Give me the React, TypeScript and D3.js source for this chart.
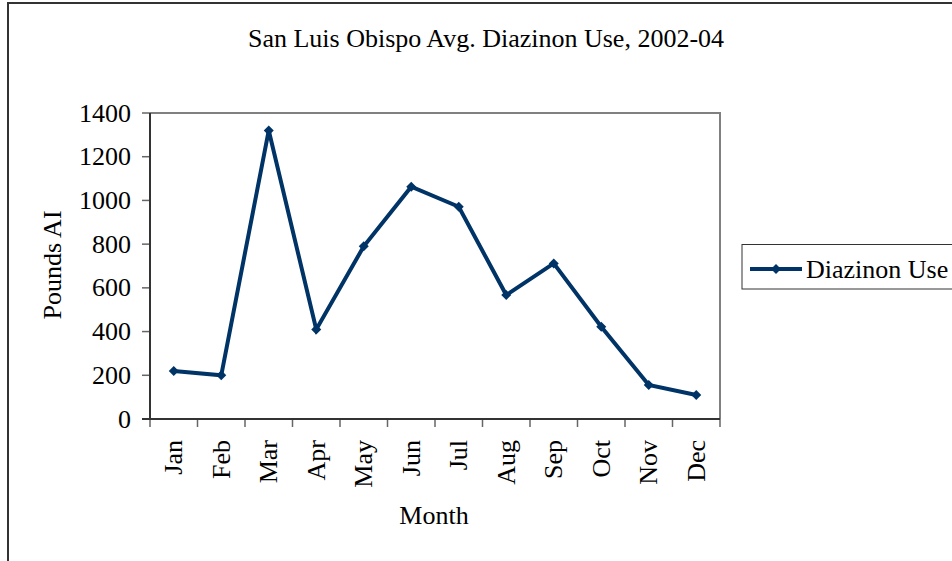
import React from "react";
import * as d3 from "d3";

const months = ["Jan", "Feb", "Mar", "Apr", "May", "Jun", "Jul", "Aug", "Sep", "Oct", "Nov", "Dec"];
const diazinonUse = [220, 200, 1320, 410, 790, 1063, 971, 567, 712, 422, 156, 110];
const yTicks = [0, 200, 400, 600, 800, 1000, 1200, 1400];
const title = "San Luis Obispo Avg. Diazinon Use, 2002-04";
const seriesName = "Diazinon Use";
const xTitle = "Month";
const yTitle = "Pounds AI";

const W = 952;
const H = 561;
const plot = { left: 150, right: 720, top: 113, bottom: 419 };
const FONT = "'Liberation Serif', 'Times New Roman', serif";
const LINE = "#003366";

export default function App() {
  const x = d3.scaleBand<string>().domain(months).range([plot.left, plot.right]).padding(0);
  const y = d3.scaleLinear().domain([0, 1400]).range([plot.bottom, plot.top]);
  const cx = (m: string) => (x(m) as number) + x.bandwidth() / 2;

  const line = d3
    .line<number>()
    .x((_, i) => cx(months[i]))
    .y((d) => y(d));

  const diamond = (px: number, py: number, r: number) =>
    `M${px},${py - r}L${px + r},${py}L${px},${py + r}L${px - r},${py}Z`;

  const boundaries = [...months.map((m) => x(m) as number), plot.right];

  return (
    <svg
      width={W}
      height={H}
      style={{ position: "absolute", left: 0, top: 0, background: "#fff" }}
      fontFamily={FONT}
    >
      <rect x={0} y={0} width={W} height={H} fill="#fff" />
      {/* outer frame */}
      <path d={`M8,${H + 5}L8,3L${W + 5},3`} fill="none" stroke="#333" strokeWidth={2} />

      <text x={486} y={47} textAnchor="middle" fontSize={26} fill="#000">
        {title}
      </text>

      {/* plot frame top/right */}
      <path
        d={`M${plot.left},${plot.top}L${plot.right},${plot.top}L${plot.right},${plot.bottom}`}
        fill="none"
        stroke="#808080"
        strokeWidth={2}
      />

      {/* y axis ticks and labels */}
      {yTicks.map((t) => (
        <g key={t}>
          <line x1={plot.left - 8} x2={plot.left} y1={y(t)} y2={y(t)} stroke="#666" strokeWidth={1.5} />
          <text
            x={plot.left - 19}
            y={y(t)}
            textAnchor="end"
            dominantBaseline="central"
            fontSize={26}
            fill="#000"
          >
            {t}
          </text>
        </g>
      ))}

      {/* x axis ticks */}
      {boundaries.map((b, i) => (
        <line key={i} x1={b} x2={b} y1={plot.bottom} y2={plot.bottom + 8} stroke="#666" strokeWidth={1.5} />
      ))}
      {months.map((m) => (
        <text
          key={m}
          transform={`translate(${cx(m)},${plot.bottom + 21}) rotate(-90)`}
          textAnchor="end"
          dominantBaseline="central"
          fontSize={26}
          fill="#000"
        >
          {m}
        </text>
      ))}

      {/* axes lines */}
      <line x1={plot.left} x2={plot.left} y1={plot.top} y2={plot.bottom} stroke="#333" strokeWidth={2} />
      <line x1={plot.left - 8} x2={plot.right} y1={plot.bottom} y2={plot.bottom} stroke="#333" strokeWidth={2} />

      {/* axis titles */}
      <text x={434} y={524} textAnchor="middle" fontSize={26} fill="#000">
        {xTitle}
      </text>
      <text
        transform={`translate(61,265) rotate(-90)`}
        textAnchor="middle"
        fontSize={26}
        fill="#000"
      >
        {yTitle}
      </text>

      {/* series */}
      <path d={line(diazinonUse) || ""} fill="none" stroke={LINE} strokeWidth={4} strokeLinejoin="miter" />
      {diazinonUse.map((v, i) => (
        <path key={i} d={diamond(cx(months[i]), y(v), 5)} fill={LINE} />
      ))}

      {/* legend */}
      <rect x={742} y={244.5} width={230} height={44.5} fill="#fff" stroke="#333" strokeWidth={1} />
      <line x1={750} x2={802} y1={269} y2={269} stroke={LINE} strokeWidth={4} />
      <path d={diamond(776, 269, 5)} fill={LINE} />
      <text x={806} y={269} dominantBaseline="central" fontSize={26} fill="#000">
        {seriesName}
      </text>
    </svg>
  );
}
